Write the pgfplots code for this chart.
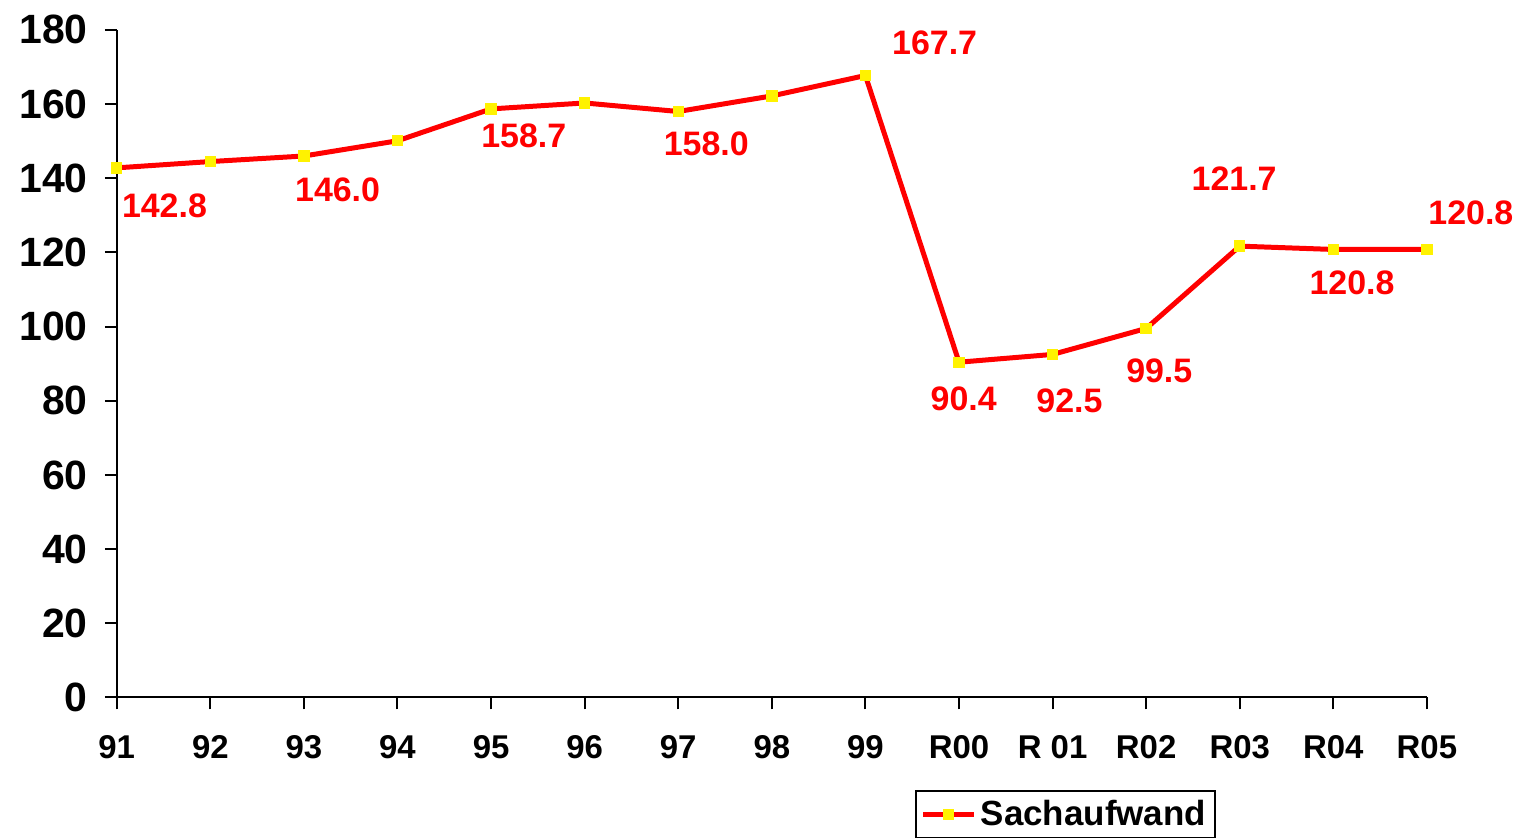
\documentclass[border=0pt]{standalone}
\usepackage{pgfplots}
\pgfplotsset{compat=1.18}
\usepackage{fontspec}
\setmainfont{Liberation Sans}
\begin{document}
\begin{tikzpicture}
\begin{axis}[
  scale only axis,
  width=656.5pt, height=334.5pt,
  xmin=0, xmax=14, ymin=0, ymax=180,
  axis x line*=bottom, axis y line*=left,
  axis line style={line width=1pt, -},
  xtick={0,...,14},
  xticklabels={91,92,93,94,95,96,97,98,99,R00,R 01,R02,R03,R04,R05},
  ytick={0,20,...,180},
  tick align=outside,
  major tick length=6pt,
  tick style={line width=1pt, black},
  /pgf/number format/assume math mode=true,
  yticklabel style={font=\fontsize{20.5}{23}\selectfont\bfseries, xshift=-5pt},
  xticklabel style={font=\fontsize{16.5}{19}\selectfont\bfseries, yshift=-9.5pt},
  legend style={at={(0.724,-0.139)}, anchor=north, draw=black, line width=0.8pt,
    font=\fontsize{17.5}{20}\selectfont\bfseries, inner sep=2.5pt},
  legend image code/.code={\draw[mark repeat=2,mark phase=2,#1] plot coordinates {(0cm,0cm) (0.45cm,0cm) (0.9cm,0cm)};},
  clip=false,
]
\addplot[red, line width=2.5pt, mark=square*, mark size=2.6pt,
  mark options={fill=yellow, draw=yellow, line width=0pt}]
  coordinates {
  (0,142.8) (1,144.5) (2,146.0) (3,150.1) (4,158.7) (5,160.3) (6,158.0) (7,162.2)
  (8,167.7) (9,90.4) (10,92.5) (11,99.5) (12,121.7) (13,120.8) (14,120.8)
  };
\addlegendentry{Sachaufwand}
\begin{scope}[every node/.style={text=red, font=\fontsize{17}{20}\selectfont\bfseries}]
\node at (axis cs:0.51,132.6) {142.8};
\node at (axis cs:2.36,137) {146.0};
\node at (axis cs:4.35,151.5) {158.7};
\node at (axis cs:6.3,149.3) {158.0};
\node at (axis cs:8.74,176.5) {167.7};
\node at (axis cs:9.05,80.4) {90.4};
\node at (axis cs:10.18,79.9) {92.5};
\node at (axis cs:11.14,88) {99.5};
\node at (axis cs:11.94,139.9) {121.7};
\node at (axis cs:14.47,130.7) {120.8};
\node at (axis cs:13.2,111.9) {120.8};
\end{scope}
\pgfresetboundingbox
\path[use as bounding box] (rel axis cs:-0.0891,-0.2108) rectangle (rel axis cs:1.0686,1.0448);
\end{axis}
\end{tikzpicture}
\end{document}
